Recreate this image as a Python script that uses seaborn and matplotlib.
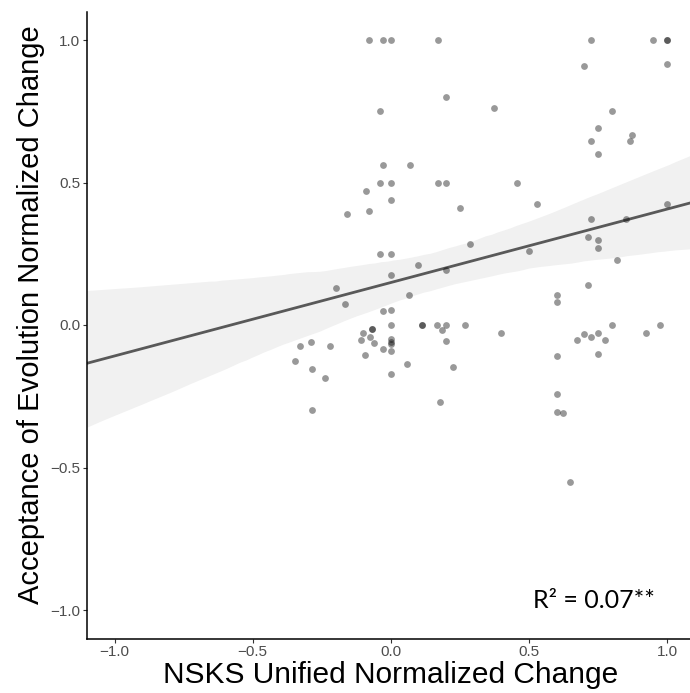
import pandas as pd
import matplotlib.pyplot as plt
import seaborn as sns

# values (x = NSKS, y = acceptance of evolution)
nsks_change = [
    -0.08, -0.03, 0.00, -0.04, -0.03, 0.07, -0.04, 0.00, -0.09, 0.00,
    -0.16, -0.08, -0.04, 0.00, 0.17, 0.20, 0.375, 0.17, 0.20, 0.455,
    0.25, 0.53, 0.285, 0.50, 0.726, 0.95, 1.00, 1.00, 0.70, 1.00,
    0.80, 0.75, 0.726, 0.874, 0.866, 0.75, 1.00, 0.726, 0.85, 0.715,
    0.75, 0.75, 0.82, 0.00, -0.20, -0.166, 0.065, -0.03, 0.00, 0.00,
    -0.10, -0.07, -0.07, -0.076, -0.108, -0.061, 0.00, 0.00, 0.00, -0.29,
    -0.33, -0.22, -0.03, 0.00, -0.094, -0.347, -0.285, 0.058, -0.238, 0.00,
    -0.285, 0.10, 0.20, 0.112, 0.112, 0.166, 0.20, 0.184, 0.267, 0.40,
    0.20, 0.224, 0.177, 0.715, 0.60, 0.60, 0.80, 0.975, 0.924, 0.70,
    0.75, 0.675, 0.726, 0.776, 0.75, 0.60, 0.60, 0.60, 0.625, 0.65,
]
evolution_change = [
    1.00, 1.00, 1.00, 0.75, 0.56, 0.56, 0.50, 0.50, 0.47, 0.44,
    0.39, 0.40, 0.25, 0.25, 1.00, 0.80, 0.76, 0.50, 0.50, 0.50,
    0.41, 0.425, 0.285, 0.26, 1.00, 1.00, 1.00, 1.00, 0.91, 0.916,
    0.75, 0.69, 0.646, 0.667, 0.646, 0.60, 0.425, 0.372, 0.372, 0.31,
    0.30, 0.27, 0.228, 0.175, 0.13, 0.074, 0.105, 0.05, 0.053, 0.00,
    -0.028, -0.014, -0.014, -0.042, -0.053, -0.063, -0.05, -0.06, -0.065, -0.06,
    -0.074, -0.074, -0.084, -0.09, -0.105, -0.126, -0.154, -0.137, -0.186, -0.172,
    -0.298, 0.21, 0.193, 0.00, 0.00, 0.00, 0.00, -0.018, 0.00, -0.028,
    -0.056, -0.147, -0.27, 0.14, 0.105, 0.08, 0.00, 0.00, -0.028, -0.032,
    -0.028, -0.053, -0.042, -0.053, -0.10, -0.109, -0.242, -0.305, -0.309, -0.55,
]
axis_ticks = [-1.0, -0.5, 0.0, 0.5, 1.0]
r2_text = "R² = 0.07**"

df = pd.DataFrame({"nsks": nsks_change, "evolution": evolution_change})

sns.set_style("white")
plt.rcParams['font.family'] = ['Liberation Sans', 'DejaVu Sans']

fig = plt.figure(figsize=(6.9, 6.93), dpi=100)
ax = fig.add_axes([87 / 690, 54.5 / 693, 607.7 / 690, 627 / 693])
ax.set_xlim(-1.1, 1.1)
ax.set_ylim(-1.1, 1.1)

sns.regplot(data=df, x="nsks", y="evolution", ax=ax, truncate=False, seed=0,
            scatter_kws={"s": 24, "color": "black", "alpha": 0.4, "linewidths": 0, "zorder": 3},
            line_kws={"color": "#595959", "lw": 2, "zorder": 2})

# lighter ribbon like ggplot's default, kept under the points
for coll in ax.collections:
    if coll.__class__.__name__ in ("PolyCollection", "FillBetweenPolyCollection"):
        coll.set_facecolor("#f1f1f1")
        coll.set_alpha(1)
        coll.set_edgecolor("none")
        coll.set_zorder(1)

ax.set_xticks(axis_ticks)
ax.set_yticks(axis_ticks)
ax.set_xticklabels([f"{t:.1f}".replace("-", "\u2212") for t in axis_ticks])
ax.set_yticklabels([f"{t:.1f}".replace("-", "\u2212") for t in axis_ticks])
ax.tick_params(axis="both", length=3, width=0.8, color="#333333",
               labelcolor="#4d4d4d", labelsize=11, pad=2, direction="out")
ax.tick_params(left=True, bottom=True)

for side in ["top", "right"]:
    ax.spines[side].set_visible(False)
for side in ["left", "bottom"]:
    ax.spines[side].set_color("black")
    ax.spines[side].set_linewidth(1.1)

ax.set_xlabel("NSKS Unified Normalized Change", fontsize=21.5, color="black", labelpad=1)
ax.set_ylabel("Acceptance of Evolution Normalized Change", fontsize=21, color="black")
ax.yaxis.set_label_coords(-0.069, 0.517)

ax.text(0.957, -0.965, r2_text, ha="right", va="center", fontsize=18,
        family=["Lato", "DejaVu Sans"], color="black")

plt.savefig("out.png", dpi=100)
